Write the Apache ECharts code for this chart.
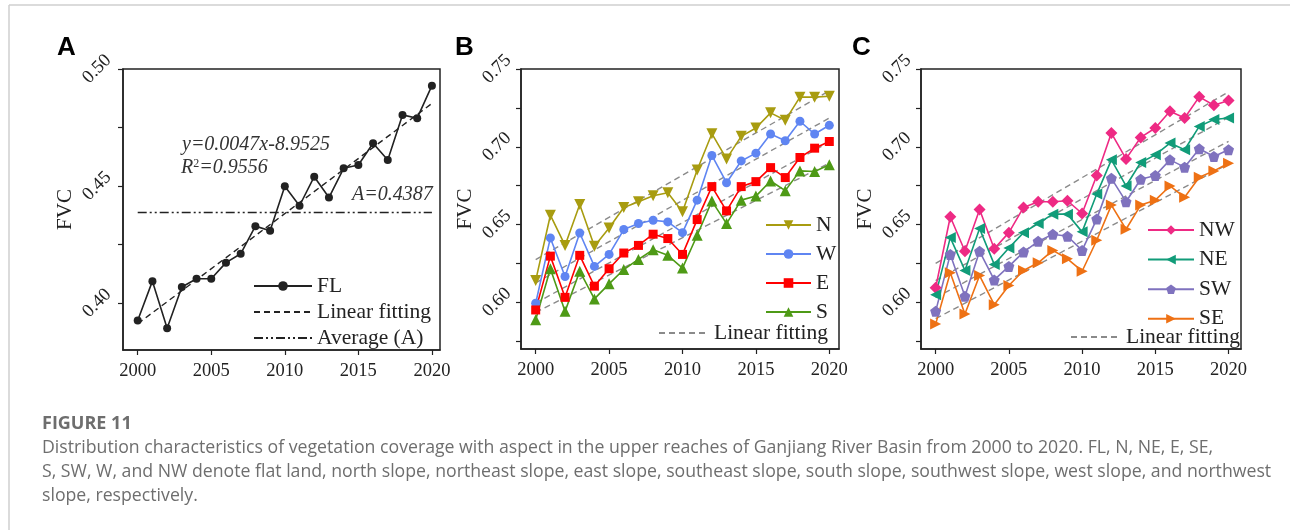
<!DOCTYPE html>
<html>
<head>
<meta charset="utf-8">
<script src="https://cdn.jsdelivr.net/npm/echarts@6/dist/echarts.min.js"></script>
<style>
html,body{margin:0;padding:0;background:#fff;}
#main{width:1290px;height:530px;}
</style>
</head>
<body>
<div id="main"></div>
<script>
// years on the x axis
var years = [2000,2001,2002,2003,2004,2005,2006,2007,2008,2009,2010,2011,2012,2013,2014,2015,2016,2017,2018,2019,2020];
var xTicks = [2000,2005,2010,2015,2020];

// panel A: flat land
var flVals = [0.3926,0.4094,0.3893,0.4069,0.4104,0.4104,0.4173,0.4211,0.4329,0.4309,0.4499,0.4416,0.4540,0.4451,0.4576,0.4590,0.4683,0.4611,0.4804,0.4790,0.4929];
var fitA = [0.3912, 0.4853];   // linear fitting at 2000 / 2020
var avgA = 0.4387;
var yTicksA = [0.40,0.425,0.45,0.475,0.50];
var yLabelsA = [0.40,0.45,0.50];

// panel B: N, W, E, S
var nVals = [0.6140,0.6560,0.6366,0.6629,0.6360,0.6478,0.6610,0.6647,0.6685,0.6705,0.6582,0.6851,0.7084,0.6922,0.7067,0.7121,0.7218,0.7170,0.7319,0.7319,0.7325];
var wVals = [0.5994,0.6414,0.6166,0.6446,0.6231,0.6308,0.6468,0.6507,0.6528,0.6517,0.6448,0.6657,0.6944,0.6769,0.6909,0.6959,0.7082,0.7039,0.7164,0.7082,0.7138];
var eVals = [0.5951,0.6297,0.6032,0.6302,0.6104,0.6216,0.6317,0.6366,0.6438,0.6410,0.6308,0.6532,0.6744,0.6588,0.6744,0.6776,0.6866,0.6802,0.6931,0.6991,0.7034];
var sVals = [0.5888,0.6216,0.5942,0.6200,0.6022,0.6119,0.6211,0.6276,0.6338,0.6302,0.6220,0.6431,0.6651,0.6506,0.6657,0.6683,0.6780,0.6718,0.6845,0.6841,0.6884];
var fitStartB = [0.6275,0.6125,0.5995,0.5935];
var fitEndB = [0.7360,0.7185,0.7030,0.6895];

// panel C: NW, NE, SW, SE
var nwVals = [0.6093,0.6550,0.6328,0.6597,0.6345,0.6448,0.6610,0.6647,0.6647,0.6653,0.6571,0.6815,0.7088,0.6922,0.7060,0.7121,0.7228,0.7185,0.7321,0.7267,0.7297];
var neVals = [0.6048,0.6416,0.6205,0.6474,0.6244,0.6349,0.6448,0.6507,0.6567,0.6567,0.6453,0.6696,0.6916,0.6748,0.6899,0.6948,0.7024,0.6981,0.7131,0.7175,0.7185];
var swVals = [0.5942,0.6308,0.6039,0.6328,0.6144,0.6231,0.6323,0.6392,0.6438,0.6425,0.6334,0.6535,0.6797,0.6647,0.6791,0.6815,0.6916,0.6869,0.6987,0.6938,0.6981];
var seVals = [0.5860,0.6190,0.5925,0.6172,0.5985,0.6108,0.6205,0.6254,0.6334,0.6280,0.6200,0.6399,0.6625,0.6470,0.6625,0.6657,0.6748,0.6675,0.6804,0.6845,0.6894];
var fitStartC = [0.6250,0.6140,0.6030,0.5895];
var fitEndC = [0.7353,0.7190,0.7035,0.6890];

var yTicksBC = [0.575,0.60,0.625,0.65,0.675,0.70,0.725,0.75];
var yLabelsBC = [0.60,0.65,0.70,0.75];

var SERIF = '"Liberation Serif","Times New Roman",serif';
var INK = '#222';

function pairs(vals){
    return years.map(function(y,i){ return [y, vals[i]]; });
}

//数据折线
function dataLine(name, vals, color, symbol, size, rot, idx){
    return {
        name: name, type: 'line', xAxisIndex: idx, yAxisIndex: idx,
        data: pairs(vals),
        symbol: symbol, symbolSize: size, symbolRotate: rot || 0,
        lineStyle: {color: color, width: 1.6},
        itemStyle: {color: color},
        z: 3, animation: false
    };
}
//拟合线 (itemStyle透明, 图例里不画圆点)
function fitLine(name, a, b, idx, color, type){
    return {
        name: name, type: 'line', xAxisIndex: idx, yAxisIndex: idx,
        data: [[years[0], a], [years[years.length-1], b]],
        symbol: 'none',
        lineStyle: {color: color, width: 1.4, type: type},
        itemStyle: {color: color, opacity: 0},
        z: 2, animation: false
    };
}

function xAxisOf(idx, max){
    return {
        gridIndex: idx, type: 'value', min: 1999, max: max,
        axisLine: {onZero: false, lineStyle: {color: INK, width: 1.5}},
        axisTick: {customValues: xTicks, length: 5, lineStyle: {color: INK, width: 1.2}},
        axisLabel: {customValues: xTicks, fontFamily: SERIF, fontSize: 18.5, color: INK, margin: 12,
            formatter: function(v){ return String(v); }},
        splitLine: {show: false}
    };
}
function yAxisOf(idx, min, max, ticks, labels, gap, margin){
    return {
        gridIndex: idx, type: 'value', min: min, max: max,
        name: 'FVC', nameLocation: 'middle', nameRotate: 90, nameGap: gap,
        nameTextStyle: {fontFamily: SERIF, fontSize: 21, color: INK},
        axisLine: {onZero: false, lineStyle: {color: INK, width: 1.5}},
        axisTick: {customValues: ticks, length: 5, lineStyle: {color: INK, width: 1.2}},
        axisLabel: {customValues: labels, rotate: 45, align: 'center', verticalAlign: 'middle',
            fontFamily: SERIF, fontSize: 18.5, color: INK, margin: margin,
            formatter: function(v){ return v.toFixed(2); }},
        splitLine: {show: false}
    };
}

function legendOf(names, left, top, w, gap){
    return {
        data: names, orient: 'vertical', left: left, top: top,
        itemWidth: w, itemHeight: 12, itemGap: gap, padding: 0,
        selectedMode: false,
        textStyle: {fontFamily: SERIF, fontSize: 21.5, color: INK, lineHeight: 20, padding: [0,0,0,0]},
        formatter: function(n){ return n.split('#')[0]; }
    };
}

var FIT_GREY = '#8a8a8a';

var series = [
    fitLine('Linear fitting#A', fitA[0], fitA[1], 0, INK, [6,4]),
    fitLine('Average (A)', avgA, avgA, 0, INK, [9,3,2,3,2,3]),
    dataLine('FL', flVals, INK, 'circle', 8, 0, 0)
];
for (var i = 0; i < 4; i++){
    series.push(fitLine('Linear fitting#B', fitStartB[i], fitEndB[i], 1, FIT_GREY, [6,4]));
    series.push(fitLine('Linear fitting#C', fitStartC[i], fitEndC[i], 2, FIT_GREY, [6,4]));
}
series.push(dataLine('N', nVals, '#A89C10', 'triangle', 11, 180, 1));
series.push(dataLine('W', wVals, '#5F85F2', 'circle', 9, 0, 1));
series.push(dataLine('E', eVals, '#FF0000', 'rect', 9, 0, 1));
series.push(dataLine('S', sVals, '#4E9A16', 'triangle', 11, 0, 1));
series.push(dataLine('NW', nwVals, '#EE2A84', 'diamond', 12, 0, 2));
series.push(dataLine('NE', neVals, '#119C79', 'triangle', 11, 90, 2));
series.push(dataLine('SW', swVals, '#7F72BE', 'path://M0,-10L9.51,-3.09L5.88,8.09L-5.88,8.09L-9.51,-3.09Z', 11, 0, 2));
series.push(dataLine('SE', seVals, '#EE7114', 'triangle', 11, -90, 2));

var capFont = '"Open Sans","Noto Sans",sans-serif';
var capColor = '#6e6e6e';
function capLine(text, y, bold){
    return {type: 'text', x: 42, y: y, style: {text: text, fontFamily: capFont, fontSize: bold ? 18 : 17.7,
        fontWeight: bold ? 'bold' : 'normal', fill: capColor, verticalAlign: 'middle'}};
}
function panelLetter(t, x){
    return {type: 'text', x: x, y: 48, style: {text: t, fontFamily: '"Liberation Sans",Arial,sans-serif',
        fontSize: 26, fontWeight: 'bold', fill: '#000', verticalAlign: 'middle'}};
}
var ital = {fontFamily: SERIF, fontSize: 20, fontStyle: 'italic', fill: '#333'};

var chart = echarts.init(document.getElementById('main'));
chart.setOption({
    backgroundColor: '#fff',
    animation: false,
    grid: [
        {left: 123, top: 69, width: 317, height: 281, show: true, borderColor: INK, borderWidth: 1.5},
        {left: 521, top: 69, width: 318, height: 280, show: true, borderColor: INK, borderWidth: 1.5},
        {left: 921, top: 69, width: 320, height: 280, show: true, borderColor: INK, borderWidth: 1.5}
    ],
    xAxis: [xAxisOf(0, 2020.55), xAxisOf(1, 2020.66), xAxisOf(2, 2020.85)],
    yAxis: [
        yAxisOf(0, 0.38, 0.50, yTicksA, yLabelsA, 41, 26),
        yAxisOf(1, 0.57, 0.75, yTicksBC, yLabelsBC, 44, 24),
        yAxisOf(2, 0.57, 0.75, yTicksBC, yLabelsBC, 44, 24)
    ],
    legend: [
        legendOf(['FL','Linear fitting#A','Average (A)'], 253, 275, 58, 4),
        legendOf(['N','W','E','S'], 765, 214, 45, 7),
        legendOf(['Linear fitting#B'], 658, 322, 50, 7),
        legendOf(['NW','NE','SW','SE'], 1147, 219, 46, 7.6),
        legendOf(['Linear fitting#C'], 1070, 326, 50, 7)
    ],
    series: series,
    graphic: [
        {type: 'line', shape: {x1: 9, y1: 5, x2: 1290, y2: 5}, style: {stroke: '#cfcfcf', lineWidth: 1.5}},
        {type: 'line', shape: {x1: 9, y1: 5, x2: 9, y2: 530}, style: {stroke: '#cfcfcf', lineWidth: 1.5}},
        panelLetter('A', 57), panelLetter('B', 455), panelLetter('C', 852),
        {type: 'text', x: 182, y: 145, style: Object.assign({text: 'y=0.0047x-8.9525', verticalAlign: 'middle'}, ital)},
        {type: 'text', x: 181, y: 168, style: {text: '{i|R}{s|2}{i|=0.9556}', verticalAlign: 'middle',
            rich: {i: ital, s: {fontFamily: SERIF, fontSize: 12, fill: '#333', padding: [0,0,9,0]}}}},
        {type: 'text', x: 352, y: 195, style: Object.assign({text: 'A=0.4387', verticalAlign: 'middle'}, ital)},
        capLine('FIGURE 11', 424, true),
        capLine('Distribution characteristics of vegetation coverage with aspect in the upper reaches of Ganjiang River Basin from 2000 to 2020. FL, N, NE, E, SE,', 448),
        capLine('S, SW, W, and NW denote flat land, north slope, northeast slope, east slope, southeast slope, south slope, southwest slope, west slope, and northwest', 472),
        capLine('slope, respectively.', 496)
    ]
});
</script>
</body>
</html>
